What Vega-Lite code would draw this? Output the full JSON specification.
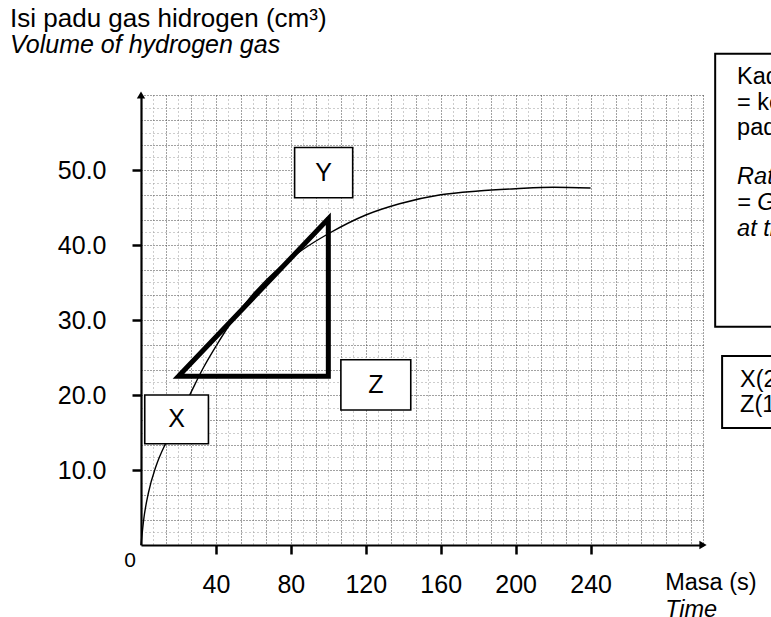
{
  "$schema": "https://vega.github.io/schema/vega-lite/v6.json",
  "width": 562,
  "height": 450,
  "autosize": "none",
  "padding": {"left": 141, "top": 95, "right": 68, "bottom": 72},
  "background": "white",
  "config": {"font": "Liberation Sans", "view": {"stroke": null}},
  "datasets": {
    "curve": [
      {"t": 0, "v": 0}, {"t": 1.5, "v": 3.5}, {"t": 4, "v": 7}, {"t": 8, "v": 10.5},
      {"t": 14, "v": 14}, {"t": 20, "v": 17}, {"t": 26, "v": 20}, {"t": 33, "v": 23.5},
      {"t": 40, "v": 26.5}, {"t": 49, "v": 30}, {"t": 60, "v": 33.5}, {"t": 74, "v": 37},
      {"t": 87, "v": 39.5}, {"t": 100, "v": 41.5}, {"t": 120, "v": 44}, {"t": 138, "v": 45.5},
      {"t": 160, "v": 46.7}, {"t": 180, "v": 47.2}, {"t": 200, "v": 47.5}, {"t": 220, "v": 47.7},
      {"t": 240, "v": 47.6}
    ],
    "triangle": [
      {"t": 20, "v": 22.5, "o": 1}, {"t": 100, "v": 43.5, "o": 2}, {"t": 100, "v": 22.5, "o": 3},
      {"t": 20, "v": 22.5, "o": 4}, {"t": 100, "v": 43.5, "o": 5}
    ],
    "points": [
      {"label": "X", "t": 19, "v": 16.75, "t1": 2, "t2": 36, "v1": 13.5, "v2": 20},
      {"label": "Y", "t": 97.5, "v": 49.65, "t1": 82, "t2": 113, "v1": 46.3, "v2": 53},
      {"label": "Z", "t": 125.35, "v": 21.35, "t1": 106.7, "t2": 144, "v1": 18, "v2": 24.7}
    ],
    "notes": [
      {"t1": 306.5, "t2": 420, "v1": 29.1, "v2": 65.5},
      {"t1": 310.2, "t2": 420, "v1": 15.6, "v2": 25.2}
    ],
    "texts": [
      {"t": -69.9, "v": 70.2, "text": "Isi padu gas hidrogen (cm³)", "lang": "ms", "group": "title"},
      {"t": -69.9, "v": 66.7, "text": "Volume of hydrogen gas", "lang": "en", "group": "title"},
      {"t": 318.2, "v": 62.4, "text": "Kadar tindak balas", "lang": "ms", "group": "note"},
      {"t": 318.2, "v": 58.9, "text": "= kecerunan tangen", "lang": "ms", "group": "note"},
      {"t": 318.2, "v": 55.6, "text": "pada 60 s", "lang": "ms", "group": "note"},
      {"t": 318.2, "v": 49.1, "text": "Rate of reaction", "lang": "en", "group": "note"},
      {"t": 318.2, "v": 45.6, "text": "= Gradient of tangent", "lang": "en", "group": "note"},
      {"t": 318.2, "v": 42.1, "text": "at time 60 s", "lang": "en", "group": "note"},
      {"t": 319.8, "v": 22.0, "text": "X(20, 22.5)", "lang": "ms", "group": "note"},
      {"t": 319.8, "v": 18.7, "text": "Z(100, 22.5)", "lang": "ms", "group": "note"},
      {"t": 279.8, "v": -5.07, "text": "Masa (s)", "lang": "ms", "group": "axis"},
      {"t": 279.8, "v": -8.7, "text": "Time", "lang": "en", "group": "axis"}
    ],
    "origin": [{"t": 0, "v": 0, "text": "0"}],
    "arrowUp": [{"t": 0, "v": 60}],
    "arrowRight": [{"t": 300, "v": 0}]
  },
  "resolve": {"axis": {"x": "independent", "y": "independent"}},
  "layer": [
    {
      "data": {"name": "curve"},
      "mark": {"type": "line", "color": "black", "strokeWidth": 1.4, "interpolate": "monotone"},
      "encoding": {
        "x": {"field": "t", "type": "quantitative", "scale": {"domain": [0, 300], "nice": false, "zero": true},
          "axis": {"orient": "bottom", "values": [13.333, 26.667, 40, 53.333, 66.667, 80, 93.333, 106.667, 120, 133.333, 146.667, 160, 173.333, 186.667, 200, 213.333, 226.667, 240, 253.333, 266.667, 280, 293.333, 300],
            "grid": true, "gridColor": "#444", "gridDash": [1, 2], "gridWidth": 1, "labels": false, "ticks": false, "domain": false, "title": null}},
        "y": {"field": "v", "type": "quantitative", "scale": {"domain": [0, 60], "nice": false, "zero": true},
          "axis": {"orient": "left", "values": [3.333, 6.667, 10, 13.333, 16.667, 20, 23.333, 26.667, 30, 33.333, 36.667, 40, 43.333, 46.667, 50, 53.333, 56.667, 60],
            "grid": true, "gridColor": "#444", "gridDash": [1, 2], "gridWidth": 1, "labels": false, "ticks": false, "domain": false, "title": null}}
      }
    },
    {
      "data": {"name": "arrowUp"},
      "mark": {"type": "point", "shape": "triangle-up", "filled": true, "color": "black", "size": 70, "opacity": 1},
      "encoding": {
        "x": {"field": "t", "type": "quantitative",
          "axis": {"orient": "bottom", "values": [6.667, 20, 33.333, 46.667, 60, 73.333, 86.667, 100, 113.333, 126.667, 140, 153.333, 166.667, 180, 193.333, 206.667, 220, 233.333, 246.667, 260, 273.333, 286.667],
            "grid": true, "gridColor": "#9a9a9a", "gridDash": [1, 3], "gridWidth": 1, "labels": false, "ticks": false, "domain": false, "title": null}},
        "y": {"field": "v", "type": "quantitative",
          "axis": {"orient": "left", "values": [1.667, 5, 8.333, 11.667, 15, 18.333, 21.667, 25, 28.333, 31.667, 35, 38.333, 41.667, 45, 48.333, 51.667, 55, 58.333],
            "grid": true, "gridColor": "#9a9a9a", "gridDash": [1, 3], "gridWidth": 1, "labels": false, "ticks": false, "domain": false, "title": null}}
      }
    },
    {
      "data": {"name": "triangle"},
      "mark": {"type": "line", "color": "black", "strokeWidth": 5, "strokeJoin": "miter", "strokeCap": "butt"},
      "encoding": {
        "x": {"field": "t", "type": "quantitative",
          "axis": {"orient": "bottom", "values": [40, 80, 120, 160, 200, 240], "grid": false, "title": null,
            "labelFont": "Liberation Sans", "labelFontSize": 25, "labelColor": "black", "labelPadding": 18,
            "tickColor": "black", "tickSize": 9, "tickWidth": 2.5, "domainColor": "black", "domainWidth": 2.2, "labelFlush": false}},
        "y": {"field": "v", "type": "quantitative",
          "axis": {"orient": "left", "values": [10, 20, 30, 40, 50], "format": ".1f", "grid": false, "title": null,
            "labelFont": "Liberation Sans", "labelFontSize": 25, "labelColor": "black", "labelPadding": 26,
            "tickColor": "black", "tickSize": 9, "tickWidth": 2.5, "domainColor": "black", "domainWidth": 2.2}},
        "order": {"field": "o", "type": "quantitative"}
      }
    },
    {
      "data": {"name": "arrowRight"},
      "mark": {"type": "point", "shape": "triangle-right", "filled": true, "color": "black", "size": 70, "opacity": 1},
      "encoding": {
        "x": {"field": "t", "type": "quantitative", "axis": null},
        "y": {"field": "v", "type": "quantitative", "axis": null}
      }
    },
    {
      "data": {"name": "points"},
      "mark": {"type": "rect", "fill": "white", "stroke": "black", "strokeWidth": 1.6},
      "encoding": {
        "x": {"field": "t1", "type": "quantitative", "axis": null},
        "x2": {"field": "t2"},
        "y": {"field": "v1", "type": "quantitative", "axis": null},
        "y2": {"field": "v2"}
      }
    },
    {
      "data": {"name": "points"},
      "mark": {"type": "text", "fontSize": 25, "color": "black", "align": "center", "baseline": "middle"},
      "encoding": {
        "x": {"field": "t", "type": "quantitative", "axis": null},
        "y": {"field": "v", "type": "quantitative", "axis": null},
        "text": {"field": "label"}
      }
    },
    {
      "data": {"name": "notes"},
      "mark": {"type": "rect", "fill": "white", "stroke": "black", "strokeWidth": 2},
      "encoding": {
        "x": {"field": "t1", "type": "quantitative", "axis": null},
        "x2": {"field": "t2"},
        "y": {"field": "v1", "type": "quantitative", "axis": null},
        "y2": {"field": "v2"}
      }
    },
    {
      "data": {"name": "texts"},
      "transform": [{"filter": "datum.lang === 'ms'"}],
      "mark": {"type": "text", "fontSize": 23, "color": "black", "align": "left", "baseline": "middle"},
      "encoding": {
        "x": {"field": "t", "type": "quantitative", "axis": null},
        "y": {"field": "v", "type": "quantitative", "axis": null},
        "text": {"field": "text"},
        "size": {"condition": {"test": "datum.group === 'title'", "value": 26}, "value": 23.5}
      }
    },
    {
      "data": {"name": "texts"},
      "transform": [{"filter": "datum.lang === 'en'"}],
      "mark": {"type": "text", "fontSize": 23, "fontStyle": "italic", "color": "black", "align": "left", "baseline": "middle"},
      "encoding": {
        "x": {"field": "t", "type": "quantitative", "axis": null},
        "y": {"field": "v", "type": "quantitative", "axis": null},
        "text": {"field": "text"},
        "size": {"condition": {"test": "datum.group === 'title'", "value": 25}, "value": 23.5}
      }
    },
    {
      "data": {"name": "origin"},
      "mark": {"type": "text", "fontSize": 21, "color": "black", "align": "center", "baseline": "middle", "dx": -11, "dy": 16},
      "encoding": {
        "x": {"field": "t", "type": "quantitative", "axis": null},
        "y": {"field": "v", "type": "quantitative", "axis": null},
        "text": {"field": "text"}
      }
    }
  ]
}
